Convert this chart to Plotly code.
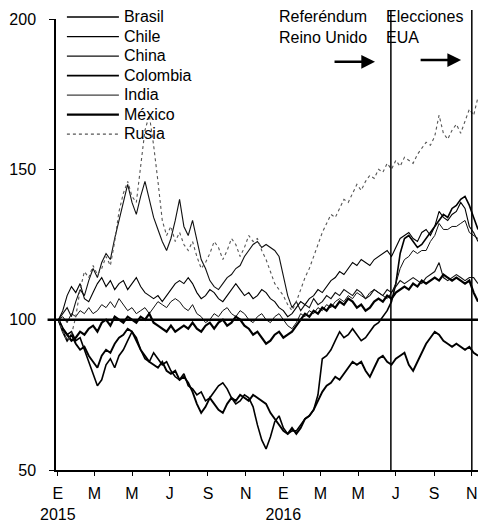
import pandas as pd
import plotly.graph_objects as go

# Weekly index values (base Jan 2015 = 100), starting 2015-01-02
start_date = "2015-01-02"

brasil = [100, 97, 95, 96, 93, 94, 90, 86, 82, 78,
          80, 85, 87, 84, 88, 90, 93, 96, 94, 90,
          87, 86, 89, 87, 85, 86, 83, 81, 80, 82,
          78, 77, 75, 76, 73, 74, 76, 78, 79, 77,
          74, 72, 73, 75, 74, 71, 65, 60, 57, 61,
          66, 68, 64, 62, 63, 63, 65, 67, 68, 70,
          75, 87, 88, 90, 93, 96, 94, 95, 97, 95,
          93, 94, 96, 98, 99, 101, 103, 106, 112, 122,
          127, 128, 126, 124, 125, 127, 129, 131, 133, 135,
          134, 137, 138, 140, 141, 138, 134, 130]

chile = [100, 103, 108, 111, 109, 112, 107, 106, 109, 112,
         114, 111, 113, 110, 112, 113, 110, 112, 114, 111,
         109, 108, 107, 108, 106, 108, 110, 112, 113, 112,
         114, 112, 109, 107, 108, 110, 109, 107, 106, 108,
         110, 112, 110, 108, 109, 107, 108, 110, 109, 107,
         106, 104, 103, 101, 102, 104, 106, 105, 107, 108,
         110, 109, 111, 113, 114, 116, 115, 117, 119, 118,
         120, 119, 118, 120, 121, 122, 123, 121, 124, 127,
         128, 129, 127, 126, 129, 130, 128, 131, 136, 134,
         133, 135, 136, 139, 137, 131, 129, 126]

china = [100, 102, 104, 101, 106, 110, 108, 113, 117, 114,
         119, 122, 120, 127, 133, 138, 145, 139, 135, 141,
         146, 140, 134, 130, 126, 123, 127, 133, 140, 131,
         128, 133, 126, 120, 117, 113, 111, 110, 112, 114,
         115, 117, 118, 121, 123, 125, 126, 124, 125, 124,
         123, 121, 114, 108, 104, 106, 103, 105, 104, 107,
         105, 106, 108, 107, 109, 108, 110, 109, 108, 110,
         109, 107, 108, 110, 109, 108, 110, 109, 111, 113,
         112, 113, 114, 113, 112, 114, 115, 116, 119, 114,
         113, 114, 115, 114, 113, 114, 114, 112]

colombia = [100, 96, 93, 95, 92, 90, 91, 88, 86, 84,
            88, 90, 89, 92, 94, 95, 97, 96, 93, 90,
            88, 86, 85, 84, 86, 83, 82, 83, 80, 81,
            79, 76, 72, 69, 71, 74, 72, 70, 69, 72,
            74, 73, 75, 74, 73, 75, 74, 73, 72, 69,
            67, 65, 63, 62, 64, 62, 64, 67, 68, 70,
            73, 76, 78, 79, 81, 80, 82, 84, 86, 85,
            86, 83, 81, 84, 87, 88, 86, 85, 87, 88,
            89, 85, 83, 86, 89, 92, 94, 96, 95, 93,
            92, 91, 92, 91, 90, 91, 89, 88]

india = [100, 101, 99, 102, 101, 103, 102, 104, 102, 103,
         105, 104, 106, 104, 107, 105, 103, 104, 102, 103,
         104, 102, 104, 106, 105, 104, 106, 107, 106, 104,
         103, 105, 102, 101, 99, 100, 102, 101, 103, 104,
         102, 101, 103, 102, 100, 99, 101, 102, 100, 99,
         101, 102, 100, 98, 97, 99, 102, 101, 103, 102,
         104, 103, 105, 104, 106, 107, 106, 108, 107, 109,
         108, 107, 109, 110, 109, 108, 107, 109, 112, 117,
         120, 121, 123, 122, 123, 123, 126, 128, 132, 130,
         130, 131, 131, 132, 133, 129, 128, 127]

mexico = [100, 97, 95, 93, 94, 96, 95, 97, 98, 96,
          99, 100, 98, 101, 100, 99, 101, 100, 99, 101,
          100, 102, 99, 98, 97, 96, 98, 96, 97, 98,
          97, 99, 97, 96, 98, 99, 97, 99, 100, 98,
          99, 101, 100, 98, 97, 95, 96, 94, 92, 93,
          95, 96, 94, 95, 96, 98, 100, 102, 101, 103,
          102, 104, 103, 105, 104, 106, 105, 107, 106, 104,
          105, 103, 104, 106, 107, 106, 108, 107, 109, 110,
          111, 110, 112, 111, 113, 112, 113, 114, 113, 115,
          114, 113, 114, 113, 112, 113, 109, 106]

rusia = [100, 96, 93, 95, 101, 110, 116, 114, 118, 115,
         117, 121, 118, 126, 136, 142, 146, 141, 139, 152,
         163, 168, 158, 146, 133, 128, 131, 126, 129, 125,
         123, 126, 121, 117, 119, 122, 126, 124, 120, 123,
         127, 125, 121, 124, 128, 126, 127, 123, 120, 116,
         112, 110, 108, 105, 103, 106, 110, 114, 117, 121,
         125, 129, 132, 135, 134, 137, 140, 139, 142, 145,
         143, 146, 148, 147, 150, 149, 152, 150, 153, 151,
         154, 153, 152, 155, 157, 159, 158, 161, 168, 162,
         160, 163, 165, 162, 166, 170, 168, 174]

series_names = ["Brasil", "Chile", "China", "Colombia", "India", "México", "Rusia"]
series_values = [brasil, chile, china, colombia, india, mexico, rusia]
series_width = [1.6, 1.1, 1.1, 1.9, 1.0, 2.2, 1.1]
series_dash = ["solid", "solid", "solid", "solid", "solid", "solid", "dot"]
series_color = ["#000", "#000", "#111", "#000", "#111", "#000", "#555"]

tick_dates = ["2015-01-01", "2015-03-01", "2015-05-01", "2015-07-01", "2015-09-01", "2015-11-01",
              "2016-01-01", "2016-03-01", "2016-05-01", "2016-07-01", "2016-09-01", "2016-11-01"]
tick_text = ["E<br>2015", "M", "M", "J", "S", "N", "E<br>2016", "M", "M", "J", "S", "N"]

event_dates = ["2016-06-23", "2016-11-01"]

FONT = "Arial, Liberation Sans, sans-serif"

fig = go.Figure()
for name, vals, w, d, c in zip(series_names, series_values, series_width, series_dash, series_color):
    dates = pd.date_range(start_date, periods=len(vals), freq="7D")
    fig.add_trace(go.Scatter(
        x=dates, y=vals, mode="lines", line=dict(color=c, width=w, dash=d),
        name=f'<span style="font-size:16px">{name}</span>'))

# reference line at 100
fig.add_shape(type="line", xref="paper", yref="y", x0=-0.02, x1=1, y0=100, y1=100,
              line=dict(color="black", width=2.5))
# event lines
for ed in event_dates:
    fig.add_shape(type="line", xref="x", yref="paper", x0=ed, x1=ed, y0=0, y1=1.02,
                  line=dict(color="black", width=1.5), layer="above")

fig.add_annotation(text="Referéndum<br>Reino Unido", xref="paper", yref="paper",
                   x=0.524, y=0.983, xanchor="left", yanchor="middle", align="left",
                   showarrow=False, font=dict(size=16, color="black", family=FONT))
fig.add_annotation(text="Elecciones<br>EUA", xref="paper", yref="paper",
                   x=0.777, y=0.983, xanchor="left", yanchor="middle", align="left",
                   showarrow=False, font=dict(size=16, color="black", family=FONT))
for tipx, tipy in [(0.756, 0.905), (0.960, 0.909)]:
    fig.add_annotation(text="", xref="paper", yref="paper", x=tipx, y=tipy,
                       ax=-42, ay=0, showarrow=True, arrowhead=2, arrowsize=1.1,
                       arrowwidth=2.5, arrowcolor="black")

fig.update_layout(
    width=479, height=524,
    margin=dict(l=56, r=1, t=19, b=54, autoexpand=False),
    paper_bgcolor="white", plot_bgcolor="white",
    font=dict(family=FONT, size=16, color="black"),
    showlegend=True,
    legend=dict(x=0.014, y=1.037, xanchor="left", yanchor="top",
                bgcolor="rgba(0,0,0,0)", font=dict(size=12.7, family=FONT, color="black"),
                itemwidth=52, tracegroupgap=0),
    xaxis=dict(type="date", range=["2014-12-29", "2016-11-11"],
               tickvals=tick_dates, ticktext=tick_text,
               showline=True, linecolor="black", linewidth=1.5,
               ticks="outside", ticklen=4, tickcolor="black", tickwidth=1.2,
               showgrid=False, zeroline=False, ticklabelstandoff=4, automargin=False,
               tickfont=dict(size=16, family=FONT, color="black")),
    yaxis=dict(range=[50, 200], tickvals=[50, 100, 150, 200],
               showline=True, linecolor="black", linewidth=1.5,
               ticks="outside", ticklen=5, tickcolor="black", tickwidth=1.2,
               showgrid=False, zeroline=False, ticklabelstandoff=10, automargin=False,
               tickfont=dict(size=16, family=FONT, color="black")),
)

# remove the page's default body margin so the 479x524 figure fills the window exactly
fig.write_html("out.html",
               config={"displayModeBar": False},
               post_script="document.body.style.margin='0px';document.body.style.overflow='hidden';")
